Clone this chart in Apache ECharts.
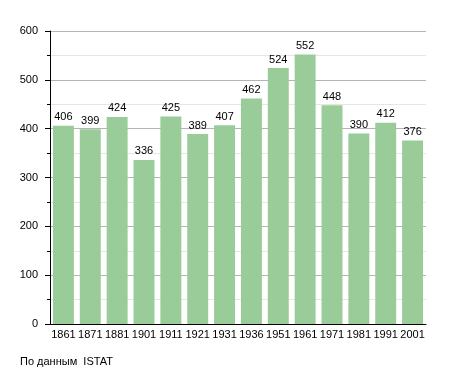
<!DOCTYPE html>
<html><head><meta charset="utf-8">
<script src="https://cdn.jsdelivr.net/npm/echarts@6/dist/echarts.min.js"></script>
<style>html,body{margin:0;padding:0;background:#fff}#c{width:455px;height:373px}</style>
</head><body><div id="c"></div>
<script>
const categories = ['1861','1871','1881','1901','1911','1921','1931','1936','1951','1961','1971','1981','1991','2001'];
const population = [406, 399, 424, 336, 425, 389, 407, 462, 524, 552, 448, 390, 412, 376];
const yTicks = [0, 100, 200, 300, 400, 500, 600];
const footer = 'По данным  ISTAT';

const chart = echarts.init(document.getElementById('c'), null, {renderer: 'canvas'});
const font = 'Liberation Sans, Arial, sans-serif';
chart.setOption({
  animation: false,
  textStyle: {fontFamily: font},
  graphic: [{type: 'text', left: 20, top: 356, style: {text: footer, fontSize: 11, fill: '#000', fontFamily: font}}],
  grid: {left: 50, right: 29, top: 31, bottom: 49, containLabel: false},
  xAxis: {
    type: 'category', data: categories,
    axisLine: {lineStyle: {color: '#000', width: 1}},
    axisTick: {show: false},
    axisLabel: {color: '#000', fontSize: 11, margin: 5, fontFamily: font, interval: 0}
  },
  yAxis: {
    type: 'value', min: yTicks[0], max: yTicks[yTicks.length - 1], interval: 100,
    axisLine: {show: true, lineStyle: {color: '#000', width: 1}},
    axisTick: {show: true, length: 5, lineStyle: {color: '#000'}},
    minorTick: {show: true, splitNumber: 2, length: 3, lineStyle: {color: '#000'}},
    splitLine: {lineStyle: {color: '#b4b4b4', width: 1}},
    minorSplitLine: {show: true, lineStyle: {color: '#e6e6e6', width: 1}},
    axisLabel: {color: '#000', fontSize: 11, margin: 12, fontFamily: font}
  },
  series: [{
    type: 'bar', data: population, barCategoryGap: '22%',
    itemStyle: {color: '#99cc99'},
    label: {show: true, position: 'top', color: '#000', fontSize: 11, distance: 3, fontFamily: font}
  }]
});
</script></body></html>
